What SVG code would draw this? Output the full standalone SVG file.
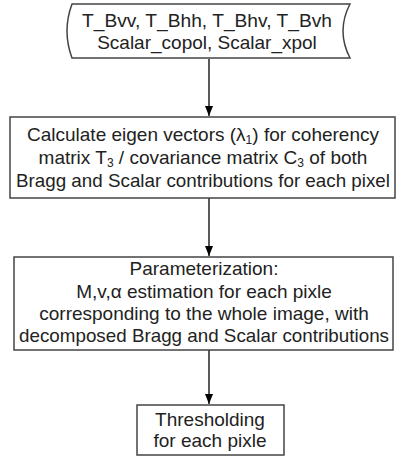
<svg xmlns="http://www.w3.org/2000/svg" width="398" height="459" viewBox="0 0 398 459">
<style>
.shape{fill:#fff;stroke:#444;stroke-width:1.5}
.t{font-family:"Liberation Sans",Arial,sans-serif;font-size:19px;fill:#222;text-anchor:middle}
.s{font-size:12px}
.c{stroke:#000;stroke-width:1.3;fill:none}
</style>
<defs>
<marker id="ah2" markerWidth="10" markerHeight="10" refX="10" refY="5" orient="auto" markerUnits="userSpaceOnUse" viewBox="0 0 10 10">
<path d="M0,1 L10,5 L0,9 Z" fill="#000"/>
</marker>
</defs>
<g id="connectors">
<line class="c" x1="209" y1="59" x2="209" y2="116" marker-end="url(#ah2)"/>
<line class="c" x1="209" y1="198" x2="209" y2="256" marker-end="url(#ah2)"/>
<line class="c" x1="209" y1="350" x2="209" y2="404" marker-end="url(#ah2)"/>
</g>
<g id="input">
<path class="shape" d="M72,4 L350,4 Q336,31 350,58 L72,58 Q62,31 72,4 Z"/>
<text class="t" x="207" y="27" textLength="250" lengthAdjust="spacingAndGlyphs">T_Bvv, T_Bhh, T_Bhv, T_Bvh</text>
<text class="t" x="207" y="49">Scalar_copol, Scalar_xpol</text>
</g>
<g id="eigen">
<rect class="shape" x="10" y="117" width="385" height="81"/>
<text class="t" x="203" y="141">Calculate eigen vectors (λ<tspan class="s" dy="3">1</tspan><tspan dy="-3">) for coherency</tspan></text>
<text class="t" x="203" y="164">matrix T<tspan class="s" dy="3">3</tspan><tspan dy="-3"> / covariance matrix C</tspan><tspan class="s" dy="3">3</tspan><tspan dy="-3"> of both</tspan></text>
<text class="t" x="203" y="187" textLength="374" lengthAdjust="spacingAndGlyphs">Bragg and Scalar contributions for each pixel</text>
</g>
<g id="param">
<rect class="shape" x="14" y="257" width="379" height="93"/>
<text class="t" x="204" y="275">Parameterization:</text>
<text class="t" x="204" y="298">M,v,α estimation for each pixle</text>
<text class="t" x="204" y="320">corresponding to the whole image, with</text>
<text class="t" x="204" y="342" textLength="370" lengthAdjust="spacingAndGlyphs">decomposed Bragg and Scalar contributions</text>
</g>
<g id="threshold">
<rect class="shape" x="137" y="405" width="147" height="50"/>
<text class="t" x="210" y="426">Thresholding</text>
<text class="t" x="210" y="447">for each pixle</text>
</g>
</svg>
